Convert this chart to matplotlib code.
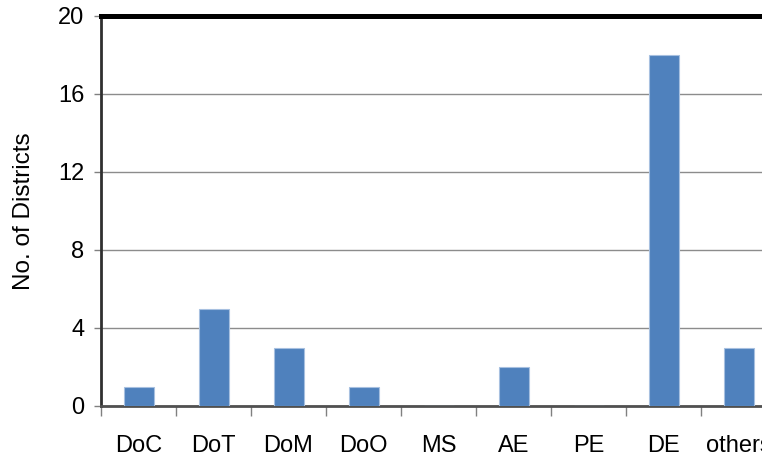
import matplotlib.pyplot as plt
import numpy as np

plt.rcParams['font.family'] = ['Liberation Sans', 'DejaVu Sans']

categories = ["DoC", "DoT", "DoM", "DoO", "MS", "AE", "PE", "DE", "others"]
districts = [1, 5, 3, 1, 0, 2, 0, 18, 3]
yticks = [0, 4, 8, 12, 16, 20]

fig = plt.figure(figsize=(7.62, 4.57), dpi=100)
# axes run past the right edge of the figure, as in the original
ax = fig.add_axes([101 / 762, 51 / 457, 675 / 762, 390 / 457])

x = np.arange(len(categories))
ax.bar(x, districts, width=0.4, color="#4F81BD", edgecolor="#A7C0E0",
       linewidth=0.8, zorder=3)

ax.set_xlim(-0.5, len(categories) - 0.5)
ax.set_ylim(0, 20)
ax.set_yticks(yticks)
ax.yaxis.grid(True, color="#8C8C8C", linewidth=1.0, zorder=0)

ax.set_xticks(x)
ax.set_xticklabels(categories, fontsize=17)
ax.set_xticks(np.arange(len(categories) + 1) - 0.5, minor=True)
ax.tick_params(axis="x", which="major", length=0, pad=21)
ax.tick_params(axis="x", which="minor", length=7, color="#808080", width=1)
ax.tick_params(axis="y", labelsize=17, length=5, color="#808080", width=1, pad=7)

ax.set_ylabel("No. of Districts", fontsize=17.5)
ax.yaxis.set_label_coords(-0.098, 0.5)

ax.spines["top"].set_linewidth(3.6)
ax.spines["top"].set_color("black")
ax.spines["left"].set_linewidth(2.0)
ax.spines["left"].set_color("#303030")
ax.spines["bottom"].set_linewidth(2.0)
ax.spines["bottom"].set_color("#505050")
ax.spines["right"].set_visible(False)

fig.savefig("out.png", dpi=100)
